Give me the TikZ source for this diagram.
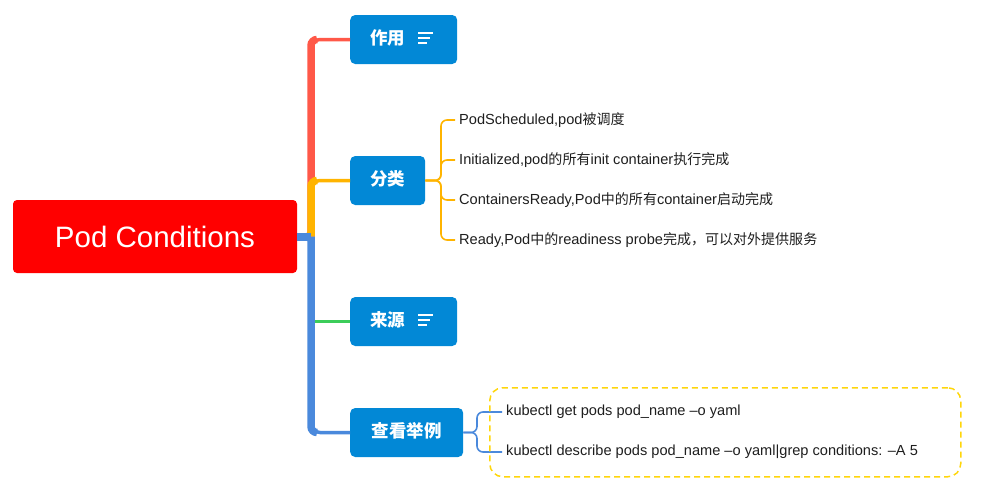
\documentclass[tikz,border=0pt]{standalone}
\usepackage{fontspec}
\setmainfont{Liberation Sans}
\newfontfamily\cjkf{Noto Sans CJK SC}[Scale=0.96]
\newfontfamily\cjkb{Noto Sans CJK SC}
\newcommand{\zh}[1]{{\cjkf #1}}
\definecolor{rootred}{RGB}{255,0,0}
\definecolor{nodeblue}{RGB}{2,136,214}
\definecolor{bred}{RGB}{255,88,72}
\definecolor{byellow}{RGB}{255,180,0}
\definecolor{bblue}{RGB}{74,137,220}
\definecolor{bgreen}{RGB}{60,205,90}
\definecolor{boxyellow}{RGB}{255,214,10}
\definecolor{txt}{RGB}{30,30,30}
\begin{document}
\begin{tikzpicture}[x=1pt,y=-1pt,
  rootbox/.style={fill=rootred,text=white,rounded corners=4pt,minimum width=284pt,minimum height=73pt,font=\fontsize{29.5}{33}\selectfont},
  topic/.style={fill=nodeblue,text=white,rounded corners=5pt,minimum height=49pt,inner xsep=20pt,font=\fontsize{17.5}{20}\selectfont\cjkb\bfseries,anchor=west},
  leaf/.style={anchor=west,inner sep=0pt,text=txt,font=\fontsize{14.6}{17}\selectfont},
  thinbranch/.style={line width=3.5pt,rounded corners=9pt},
  trunk/.style={line width=7.5pt,rounded corners=6pt},
  subbranch/.style={line width=1.6pt,rounded corners=6pt},
  icon/.style={white,line width=1.3pt}
]
\useasboundingbox (0,0) rectangle (996,491);
% nodes
\node[rootbox] (root) at (155,236.5) {Pod Conditions};
\node[topic] (c1) at (350,39.5) {作用\hspace{32pt}\vphantom{Ag}};
\node[topic] (c2) at (350,180.5) {分类\vphantom{Ag}};
\node[topic] (c3) at (350,321.5) {来源\hspace{32pt}\vphantom{Ag}};
\node[topic,minimum width=113pt] (c4) at (350,432.5) {查看举例\vphantom{Ag}};
% icons
\foreach \n in {c1,c3}{
  \draw[icon] ([xshift=-39pt,yshift=6.5pt]\n.east) -- ++(15,0);
  \draw[icon] ([xshift=-39pt,yshift=1.5pt]\n.east) -- ++(12,0);
  \draw[icon] ([xshift=-39pt,yshift=-3.5pt]\n.east) -- ++(9,0);
}
% main branches
\coordinate (j) at (311,236.5);
\draw[thinbranch,bred] (root.east) -- (j) |- (c1.west);
\draw[trunk,bred] (j) |- (317,39.5);
\draw[thinbranch,byellow] (root.east) -- (j) |- (c2.west);
\draw[trunk,byellow] (j) |- (317,180.5);
\draw[thinbranch,bblue] (root.east) -- (j) |- (c4.west);
\draw[trunk,bblue] (j) |- (317,432.5);
\draw[line width=8pt,bblue] (root.east) -- (j);
\draw[line width=2.5pt,bgreen] (315,321.5) -- (c3.west);
% leaves of c2
\node[leaf] (l1) at (459,120) {PodScheduled,pod\zh{被调度}};
\node[leaf] (l2) at (459,160) {Initialized,pod\zh{的所有}init container\zh{执行完成}};
\node[leaf] (l3) at (459,200) {ContainersReady,Pod\zh{中的所有}container\zh{启动完成}};
\node[leaf] (l4) at (459,240) {Ready,Pod\zh{中的}readiness probe\zh{完成，可以对外提供服务}};
\coordinate (s2) at (441,180.5);
\foreach \l in {l1,l2,l3,l4}{
  \draw[subbranch,byellow] (c2.east) -- (s2) |- ([xshift=-4pt]\l.west);
}
% leaves of c4
\node[leaf] (m1) at (506,412) {kubectl get pods pod\_name –o yaml};
\node[leaf] (m2) at (506,452) {kubectl describe pods pod\_name –o yaml|grep conditions: –A 5};
\coordinate (s4) at (477,432.5);
\foreach \l in {m1,m2}{
  \draw[subbranch,bblue] (c4.east) -- (s4) |- ([xshift=-4pt]\l.west);
}
\node[draw=boxyellow,line width=1.5pt,dash pattern=on 6pt off 4pt,rounded corners=13pt,minimum width=471pt,minimum height=89pt,anchor=north west,inner sep=0pt] (box) at (489,387) {};
\end{tikzpicture}
\end{document}
